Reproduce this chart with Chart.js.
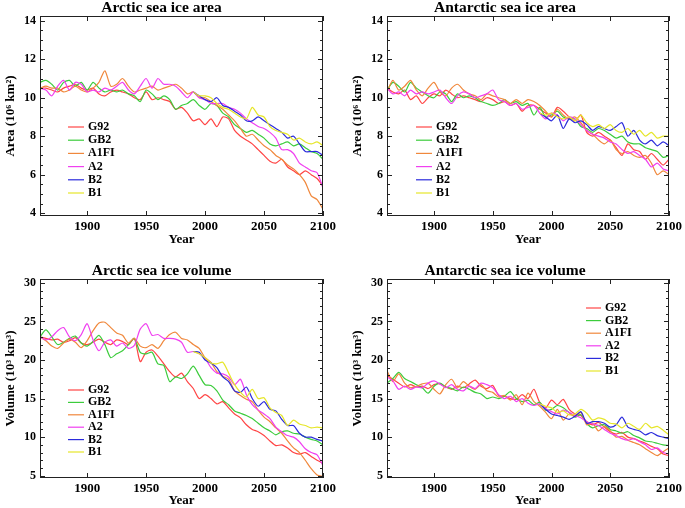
<!DOCTYPE html>
<html lang="en">
<head>
  <meta charset="UTF-8" />
  <title>Sea ice area and volume scenarios</title>
  <script src="https://cdn.jsdelivr.net/npm/chart.js"></script>
  <style>
    body { margin:0; background:#fff; }
    #wrap { position:relative; width:685px; height:508px; }
    #wrap canvas { position:absolute; }
  </style>
</head>
<body>
  <div id="wrap">
    <canvas id="arcArea" width="340" height="254" style="left:0;top:0"></canvas>
    <canvas id="antArea" width="345" height="254" style="left:340px;top:0"></canvas>
    <canvas id="arcVol" width="340" height="254" style="left:0;top:254px"></canvas>
    <canvas id="antVol" width="345" height="254" style="left:340px;top:254px"></canvas>
  </div>

  <script>
    const years = [1860,1865,1870,1875,1880,1885,1890,1895,1900,1905,
                   1910,1915,1920,1925,1930,1935,1940,1945,1950,1955,
                   1960,1965,1970,1975,1980,1985,1990,1995,2000,2005,
                   2010,2015,2020,2025,2030,2035,2040,2045,2050,2055,
                   2060,2065,2070,2075,2080,2085,2090,2095,2100];
    // B2 and B1 only run from 1990
    const scenYears = [1990,1995,2000,2005,2010,2015,2020,2025,2030,2035,2040,2045,
                       2050,2055,2060,2065,2070,2075,2080,2085,2090,2095,2100];
    const scenarios = ['G92', 'GB2', 'A1FI', 'A2', 'B2', 'B1'];
    const colors = ['#ff4545', '#3ccc3c', '#f0883c', '#f040f0', '#2b2bdc', '#e6e62a'];
    const xTicks = [1900, 1950, 2000, 2050, 2100];
    const areaTicks = [4, 6, 8, 10, 12, 14];
    const volTicks = [5, 10, 15, 20, 25, 30];

    // Arctic sea ice area (10^6 km^2)
    const arcAreaG92 = [10.5,10.5,10.4,10.3,10.5,10.6,10.7,10.5,10.4,10.5,10.2,10.1,10.3,10.4,10.3,10.2,10.0,9.9,10.3,9.9,
                        10.0,9.9,9.8,9.4,9.5,9.2,8.8,8.9,8.6,8.9,8.5,9.0,8.9,8.3,8.0,7.8,7.6,7.3,7.0,6.7,
                        6.6,6.8,6.4,6.2,6.0,6.2,6.0,5.8,5.4];
    const arcAreaGB2 = [10.8,10.9,10.7,10.4,10.8,10.9,10.6,10.8,10.4,10.8,10.5,10.3,10.4,10.3,10.4,10.2,10.1,9.8,10.4,10.2,
                        9.9,10.1,9.9,9.4,9.6,9.7,9.9,9.6,9.4,9.7,9.6,9.2,9.0,8.6,8.4,8.2,8.3,8.1,7.9,7.6,
                        7.5,7.6,7.7,7.5,7.6,7.4,7.2,7.1,6.8];
    const arcAreaA1FI = [10.5,10.6,10.5,10.5,10.3,10.4,10.6,10.4,10.3,10.5,10.8,11.4,10.6,10.7,11.0,10.6,10.3,10.4,10.5,10.6,
                         10.4,10.5,10.6,10.7,10.5,10.2,10.3,10.0,10.0,9.8,9.6,9.4,9.1,8.8,8.4,8.0,8.1,7.8,7.5,7.3,
                         7.0,6.8,6.5,6.3,6.0,5.6,4.9,4.7,4.2];
    const arcAreaA2 = [10.5,10.4,10.1,10.6,10.9,10.4,10.8,10.7,10.3,10.4,10.3,10.5,10.4,10.6,10.8,10.4,10.2,10.6,11.0,10.5,
                       11.0,10.7,10.7,10.6,10.3,10.0,10.3,10.0,9.9,9.7,9.7,9.7,9.5,9.4,9.2,8.9,8.7,8.5,8.4,8.2,
                       7.9,7.3,7.3,7.1,6.6,6.4,6.2,6.1,5.3];
    const arcAreaB2 = [10.3,10.1,9.9,9.8,10.0,9.6,9.5,9.3,9.1,8.8,8.8,9.0,8.8,8.6,8.4,8.2,7.9,8.0,7.6,7.2,7.2,7.2,7.0];
    const arcAreaB1 = [10.3,10.1,10.1,10.0,9.7,9.5,9.4,9.2,9.0,8.9,9.5,9.1,9.0,8.5,8.3,8.2,8.1,7.8,7.9,7.7,7.6,7.7,7.5];

    // Antarctic sea ice area (10^6 km^2)
    const antAreaG92 = [10.5,10.3,10.2,10.4,9.9,10.1,9.7,10.0,10.2,10.1,10.4,10.2,10.0,10.1,10.0,9.9,9.8,10.0,9.9,9.7,
                        9.8,9.6,9.7,9.3,9.6,9.6,9.4,9.2,9.0,9.5,9.3,9.0,8.8,9.1,8.2,8.0,8.2,8.0,7.8,7.4,
                        7.0,7.6,7.3,7.2,6.8,7.1,6.8,6.5,6.8];
    const antAreaGB2 = [10.4,10.8,10.6,10.3,10.8,10.5,10.3,10.1,10.0,10.3,10.2,9.8,10.2,10.0,10.1,10.0,9.8,9.7,9.6,9.7,
                        9.9,9.7,9.8,9.6,9.7,9.1,9.5,9.0,9.1,9.3,9.0,8.9,8.9,8.5,8.4,8.2,8.4,8.3,8.1,7.9,
                        8.0,7.7,7.6,7.6,7.4,7.3,7.2,6.9,7.0];
    const antAreaA1FI = [10.3,10.9,10.4,10.6,10.9,10.4,10.1,10.5,10.8,10.3,10.1,10.5,10.7,10.4,10.2,10.1,9.9,10.2,10.1,10.0,
                         9.9,9.7,9.9,9.7,9.9,9.8,9.6,9.3,9.0,9.4,9.1,8.9,9.0,8.7,8.3,8.1,7.8,7.6,7.8,7.3,
                         7.1,7.2,7.0,6.9,7.0,6.6,6.0,6.2,6.0];
    const antAreaA2 = [10.5,10.2,10.3,10.1,10.4,10.2,10.3,10.2,10.3,10.4,10.0,9.7,10.1,10.3,10.2,10.0,10.1,10.2,10.4,9.9,
                       9.8,9.6,9.7,9.4,9.5,9.6,9.2,8.9,9.2,9.1,8.8,9.0,8.9,8.6,8.3,8.1,8.0,7.9,7.7,7.6,
                       7.3,7.1,7.2,7.0,6.8,6.4,6.6,6.3,6.2];
    const antAreaB2 = [9.2,9.0,8.8,9.1,8.4,8.9,8.7,8.8,8.6,8.3,8.5,8.4,8.3,8.5,8.7,8.0,8.3,7.8,7.6,7.8,7.5,7.7,7.5];
    const antAreaB1 = [9.2,9.1,9.2,9.0,8.9,9.0,8.8,9.1,8.7,8.5,8.6,8.4,8.6,8.3,8.2,8.4,8.1,8.3,8.0,8.2,7.9,8.0,8.0];

    // Arctic sea ice volume (10^3 km^3)
    const arcVolG92 = [23.0,22.8,22.6,22.7,22.3,22.5,22.9,22.2,22.0,22.3,22.7,22.3,22.0,22.6,22.4,22.0,22.8,19.8,21.0,21.3,
                       20.5,19.5,18.5,17.8,18.3,17.2,16.3,15.0,15.5,15.0,14.3,14.6,13.8,13.0,12.5,11.6,11.0,10.7,10.2,9.5,
                       8.9,9.0,8.6,8.0,7.8,8.0,7.5,7.0,6.6];
    const arcVolGB2 = [23.0,23.9,23.0,22.0,22.3,22.8,23.1,22.2,21.8,22.4,23.2,22.0,20.3,20.8,21.2,22.0,22.8,21.0,20.8,21.0,
                       19.5,19.3,17.2,17.8,17.6,18.2,19.2,18.0,16.8,16.7,16.0,14.8,14.2,13.4,13.1,12.8,12.4,11.8,11.2,10.8,
                       10.3,10.7,10.8,10.5,10.4,10.0,9.7,9.5,9.0];
    const arcVolA1FI = [23.0,22.5,21.8,21.5,22.2,22.7,22.3,21.6,22.5,23.8,24.8,24.9,24.2,23.5,23.2,22.2,22.8,21.8,21.6,22.0,
                        21.5,22.5,23.3,23.6,22.8,22.6,22.0,21.5,20.3,19.7,18.5,17.9,17.5,16.0,15.4,14.9,14.6,13.5,12.6,12.0,
                        11.2,10.5,9.5,8.6,8.0,7.0,5.9,5.1,4.9];
    const arcVolA2 = [23.0,22.6,23.0,23.8,24.2,23.0,22.5,23.3,24.7,22.6,21.2,22.3,22.6,21.8,22.2,21.5,21.9,24.0,24.7,23.2,
                      23.3,22.8,22.8,22.7,22.3,21.0,21.1,20.8,20.2,19.0,18.3,18.2,17.8,16.8,17.5,15.5,14.2,13.5,13.0,12.4,
                      11.3,10.7,10.2,10.0,9.4,8.5,8.0,7.7,6.3];
    const arcVolB2 = [21.1,21.0,20.0,19.6,19.0,17.8,17.2,16.0,15.8,16.5,15.0,14.0,14.6,13.6,13.4,12.3,11.5,11.5,10.5,10.0,10.0,9.7,9.5];
    const arcVolB1 = [21.1,20.8,20.3,19.6,19.5,19.7,18.3,16.8,15.8,15.2,16.2,15.0,15.1,13.8,13.2,12.8,11.5,12.2,11.7,11.5,11.2,11.3,11.2];

    // Antarctic sea ice volume (10^3 km^3)
    const antVolG92 = [18.0,17.5,17.0,16.5,16.8,16.5,16.6,16.3,16.8,16.9,16.5,16.2,16.6,16.4,16.9,17.4,16.6,16.3,16.7,15.4,
                       15.3,15.0,14.9,15.5,15.0,16.2,14.5,13.8,14.8,14.2,14.9,13.6,13.0,12.8,12.0,11.6,11.9,11.3,10.7,10.4,
                       10.6,10.0,9.8,9.5,9.2,8.8,8.5,7.8,7.6];
    const antVolGB2 = [17.0,17.6,18.4,17.6,17.2,16.8,16.4,15.7,16.6,17.0,16.5,16.3,16.0,16.5,16.2,15.8,15.6,15.0,15.2,15.0,
                       15.3,15.9,15.0,14.6,14.8,14.2,14.5,13.5,13.6,14.1,13.8,13.2,12.6,12.9,11.8,11.2,11.5,11.6,11.0,10.8,
                       10.5,10.7,10.2,9.9,9.5,9.4,9.2,9.0,8.9];
    const antVolA1FI = [18.6,17.2,18.2,17.0,16.4,16.6,16.9,17.0,16.2,15.6,16.8,17.5,16.4,17.2,16.6,16.2,16.8,16.0,15.8,15.2,
                        15.4,14.8,15.5,14.2,15.7,14.6,14.0,13.2,12.4,13.6,12.2,13.0,12.7,13.2,11.6,11.8,10.8,11.4,10.8,10.0,
                        10.1,9.6,9.3,9.0,8.5,8.0,7.6,8.1,8.6];
    const antVolA2 = [17.8,17.3,16.2,16.6,16.2,16.5,16.4,17.0,17.3,16.9,16.4,16.8,16.2,16.0,16.6,16.3,17.0,16.8,16.4,15.5,
                      15.0,15.3,14.6,15.0,14.4,14.1,14.3,13.7,13.3,13.0,13.5,13.2,12.8,12.5,12.0,11.7,11.5,11.0,10.5,10.2,
                      9.8,9.6,9.8,9.4,9.0,8.4,8.6,8.0,7.8];
    const antVolB2 = [14.3,13.6,13.0,12.8,12.6,12.3,12.7,13.3,11.8,12.0,12.0,11.8,11.3,11.6,12.6,11.3,11.0,10.8,10.3,10.6,10.2,10.0,9.8];
    const antVolB1 = [14.3,14.0,13.8,13.2,13.4,12.9,13.0,13.6,13.1,12.2,12.5,12.3,11.8,11.7,11.2,11.8,11.4,11.0,11.8,11.2,11.4,10.9,10.3];

    const serif = "'Liberation Serif', 'Times New Roman', serif";

    // box frame with inward ticks on all four sides
    const frameTicks = {
      id: 'frameTicks',
      afterDatasetsDraw(chart, args, o) {
        const { ctx, chartArea: a, scales: { x, y } } = chart;
        ctx.save();
        ctx.strokeStyle = '#222';
        ctx.lineWidth = 1;
        ctx.strokeRect(Math.round(a.left) + 0.5, Math.round(a.top) + 0.5,
                       Math.round(a.right - a.left) - 1, Math.round(a.bottom - a.top) - 1);
        ctx.beginPath();
        xTicks.forEach(t => {
          const px = Math.round(x.getPixelForValue(t)) + 0.5;
          ctx.moveTo(px, a.bottom); ctx.lineTo(px, a.bottom - 5);
          ctx.moveTo(px, a.top); ctx.lineTo(px, a.top + 5);
        });
        for (let v = o.yFrom; v <= y.max; v += o.yMinor) {
          const py = Math.round(y.getPixelForValue(v)) + 0.5;
          const len = o.yMajor.includes(v) ? 5 : 3;
          ctx.moveTo(a.left, py); ctx.lineTo(a.left + len, py);
          ctx.moveTo(a.right, py); ctx.lineTo(a.right - len, py);
        }
        ctx.stroke();
        ctx.restore();
      }
    };

    // legend drawn inside the plot
    const seriesKey = {
      id: 'seriesKey',
      afterDraw(chart, args, o) {
        const ctx = chart.ctx;
        ctx.save();
        ctx.font = 'bold 12px ' + serif;
        ctx.textBaseline = 'middle';
        chart.data.datasets.forEach((ds, i) => {
          const yy = o.y + i * o.step;
          ctx.strokeStyle = ds.borderColor;
          ctx.lineWidth = 1.2;
          ctx.beginPath(); ctx.moveTo(o.x, yy); ctx.lineTo(o.x + o.len, yy); ctx.stroke();
          ctx.fillStyle = '#000';
          ctx.fillText(ds.label, o.x + o.len + 4, yy);
        });
        ctx.restore();
      }
    };

    function makePanel(id, title, yTitle, yMin, yMax, yMajor, yMinor, series, box) {
      const datasets = series.map((vals, i) => {
        const xs = vals.length === years.length ? years : scenYears;
        return {
          label: scenarios[i],
          data: vals.map((v, k) => ({ x: xs[k], y: v })),
          borderColor: colors[i],
          borderWidth: 1.2,
          pointRadius: 0,
          tension: 0.25,
          fill: false,
          order: series.length - i
        };
      });
      const tickFont = { family: serif, size: 13, weight: 'bold' };
      new Chart(document.getElementById(id), {
        type: 'line',
        data: { datasets },
        options: {
          responsive: false,
          animation: false,
          layout: { padding: { left: 0, right: box.pr, top: 0, bottom: 0 } },
          plugins: {
            legend: { display: false },
            tooltip: { enabled: false },
            title: {
              display: true, text: title, color: '#000',
              font: { family: serif, size: 15.5, weight: 'bold', lineHeight: 1 },
              padding: { top: box.tt, bottom: 0.5 }
            },
            frameTicks: { yMajor, yMinor, yFrom: yMajor[0] - yMinor * Math.floor((yMajor[0] - yMin) / yMinor) },
            seriesKey: box.key
          },
          scales: {
            x: {
              type: 'linear', min: 1860, max: 2100,
              afterBuildTicks: s => { s.ticks = xTicks.map(v => ({ value: v })); },
              afterFit: s => { s.height = box.xh; },
              grid: { display: false, drawTicks: false },
              border: { display: false },
              ticks: { padding: 3, color: '#000', font: tickFont, maxRotation: 0, autoSkip: false, callback: v => String(v) },
              title: { display: true, text: 'Year', color: '#000',
                       font: { family: serif, size: 13, weight: 'bold', lineHeight: 1.1 },
                       padding: { top: 0, bottom: box.xtp } }
            },
            y: {
              type: 'linear', min: yMin, max: yMax,
              afterBuildTicks: s => { s.ticks = yMajor.map(v => ({ value: v })); },
              afterFit: s => { s.width = box.yw; },
              grid: { display: false, drawTicks: false },
              border: { display: false },
              ticks: { padding: 4, color: '#000', font: { family: serif, size: 12, weight: 'bold' }, autoSkip: false, callback: v => String(v) },
              title: { display: true, text: yTitle, color: '#000',
                       font: { family: serif, size: 13, weight: 'bold', lineHeight: 1.1 },
                       padding: { top: box.ytp, bottom: 0 } }
            }
          }
        },
        plugins: [frameTicks, seriesKey]
      });
    }

    makePanel('arcArea', 'Arctic sea ice area', 'Area (10⁶ km²)', 3.85, 14.25, areaTicks, 0.5,
      [arcAreaG92, arcAreaGB2, arcAreaA1FI, arcAreaA2, arcAreaB2, arcAreaB1],
      { pr: 17, tt: 0, xh: 38, xtp: 7, yw: 40, ytp: 3, key: { x: 68, y: 127, step: 13.2, len: 16 } });

    makePanel('antArea', 'Antarctic sea ice area', 'Area (10⁶ km²)', 3.85, 14.25, areaTicks, 0.5,
      [antAreaG92, antAreaGB2, antAreaA1FI, antAreaA2, antAreaB2, antAreaB1],
      { pr: 15, tt: 0, xh: 38, xtp: 7, yw: 47, ytp: 10, key: { x: 76, y: 127, step: 13.2, len: 16 } });

    makePanel('arcVol', 'Arctic sea ice volume', 'Volume (10³ km³)', 4.7, 30.5, volTicks, 1,
      [arcVolG92, arcVolGB2, arcVolA1FI, arcVolA2, arcVolB2, arcVolB1],
      { pr: 17, tt: 9, xh: 30, xtp: 0, yw: 40, ytp: 3, key: { x: 68, y: 136, step: 12.4, len: 16 } });

    makePanel('antVol', 'Antarctic sea ice volume', 'Volume (10³ km³)', 4.7, 30.5, volTicks, 1,
      [antVolG92, antVolGB2, antVolA1FI, antVolA2, antVolB2, antVolB1],
      { pr: 15, tt: 9, xh: 30, xtp: 0, yw: 47, ytp: 10, key: { x: 246, y: 54, step: 12.6, len: 15 } });
  </script>
</body>
</html>
